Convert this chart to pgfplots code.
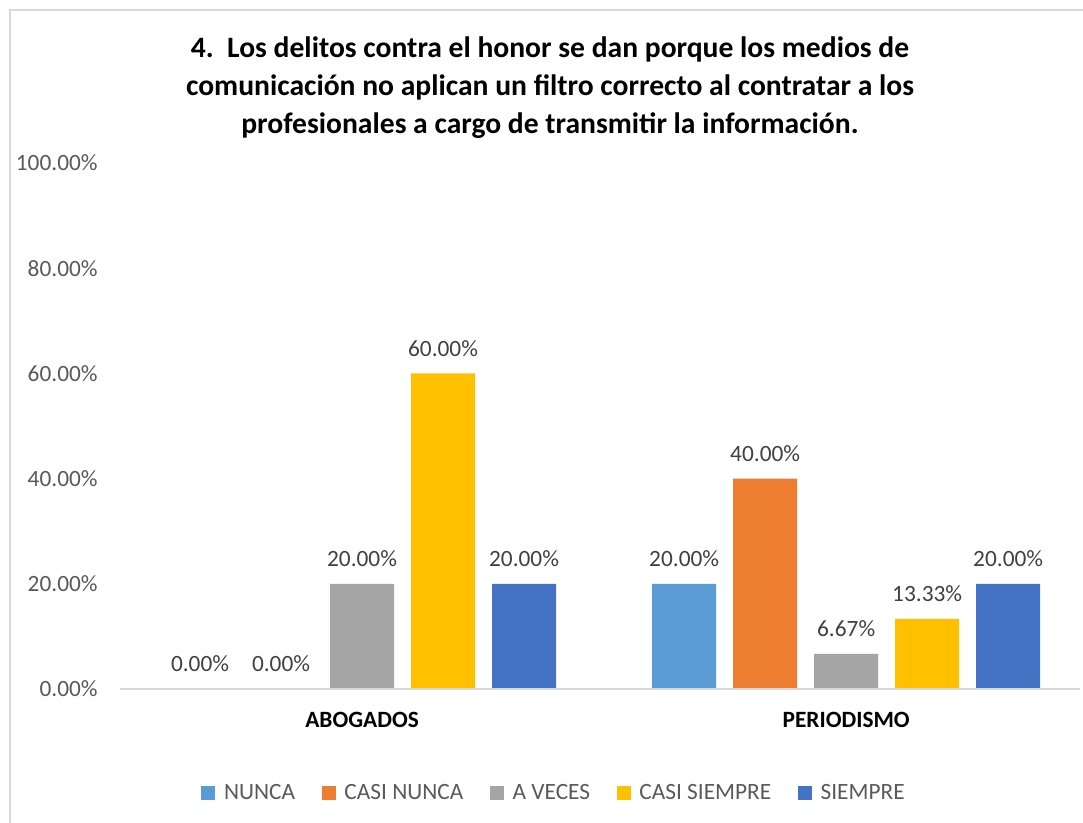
\documentclass[border=0pt]{standalone}
\usepackage{pgfplots}
\pgfplotsset{compat=1.18}
\usepackage{fontspec}
\setmainfont{Carlito}
\definecolor{cnunca}{HTML}{5B9BD5}
\definecolor{ccasinunca}{HTML}{ED7D31}
\definecolor{caveces}{HTML}{A5A5A5}
\definecolor{ccasisiempre}{HTML}{FFC000}
\definecolor{csiempre}{HTML}{4472C4}
\definecolor{ticktext}{HTML}{595959}
\definecolor{labeltext}{HTML}{404040}
\definecolor{framegray}{HTML}{D9D9D9}

\pgfplotsset{sqlegend/.style={legend image code/.code={%
  \fill[##1] (0pt,-5.25pt) rectangle (10.5pt,5.25pt);}}}

\begin{document}
\begin{tikzpicture}
% page = 1083 x 823 px, 1px = 0.75pt, axis origin at (120px, 689px)
\useasboundingbox (-90pt,-100.5pt) rectangle (722.25pt,516.75pt);
\draw[framegray, line width=1pt] (-82.5pt,-100.5pt) -- (-82.5pt,509.25pt) -- (722.25pt,509.25pt);
\begin{axis}[
  scale only axis,
  width=720pt, height=394.5pt,
  ybar=12.75pt, bar width=48pt,
  xmin=-0.5, xmax=1.483,
  ymin=0, ymax=100,
  xtick={0,1}, xticklabels={ABOGADOS, PERIODISMO},
  ytick={0,20,40,60,80,100},
  axis x line=bottom, axis y line=left,
  x axis line style={-, draw=framegray, line width=1pt},
  y axis line style={draw=none},
  axis on top,
  major tick length=0pt,
  /pgf/number format/assume math mode=true,
  yticklabel={\pgfmathprintnumber[fixed,zerofill,precision=2]{\tick}\%},
  yticklabel style={font=\fontsize{17.5}{20}\selectfont, text=ticktext, anchor=east, xshift=-13.25pt},
  xticklabel style={font=\fontsize{17.5}{20}\selectfont\bfseries, text=black, anchor=center, yshift=-23.25pt},
  nodes near coords={\pgfmathprintnumber[fixed,zerofill,precision=2]{\pgfplotspointmeta}\%},
  nodes near coords style={font=\fontsize{17.5}{20}\selectfont, text=labeltext, anchor=center, yshift=18.75pt},
  legend columns=5,
  legend style={at={(0.4525,-0.1977)}, anchor=center, draw=none, fill=none,
    font=\fontsize{17.5}{20}\selectfont, text=ticktext,
    /tikz/every odd column/.append style={column sep=4.5pt},
    /tikz/every even column/.append style={column sep=18pt}},
  sqlegend,
  clip=false,
]
\addplot[fill=cnunca, draw=none] coordinates {(0,0) (1,20)};
\addplot[fill=ccasinunca, draw=none] coordinates {(0,0) (1,40)};
\addplot[fill=caveces, draw=none] coordinates {(0,20) (1,6.67)};
\addplot[fill=ccasisiempre, draw=none] coordinates {(0,60) (1,13.33)};
\addplot[fill=csiempre, draw=none] coordinates {(0,20) (1,20)};
\legend{NUNCA, CASI NUNCA, A VECES, CASI SIEMPRE, SIEMPRE}
\end{axis}
\node[align=center, font=\fontsize{22.2}{28.5}\selectfont\bfseries] at (322.5pt,450.75pt)
  {4.\ \ Los delitos contra el honor se dan porque los medios de\\
   comunicación no aplican un filtro correcto al contratar a los\\
   profesionales a cargo de transmitir la información.};
\end{tikzpicture}
\end{document}
